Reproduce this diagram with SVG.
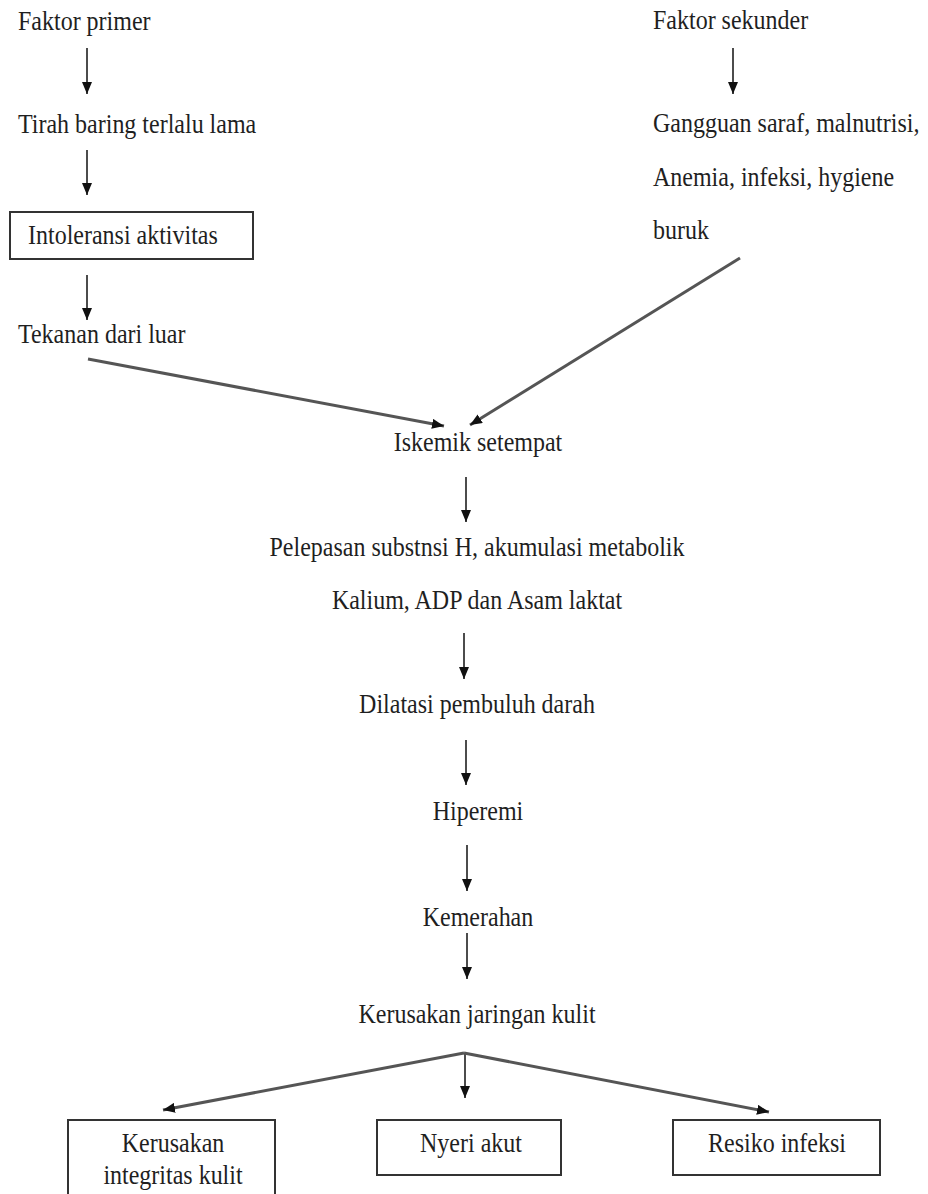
<svg xmlns="http://www.w3.org/2000/svg" width="928" height="1194" viewBox="0 0 928 1194">
<defs>
<marker id="ah" viewBox="0 0 12 10" refX="12" refY="5" markerWidth="12" markerHeight="10" markerUnits="userSpaceOnUse" orient="auto">
<path d="M0,0 L12,5 L0,10 z" fill="#111"/>
</marker>
</defs>
<style>
text{font-size:24px;fill:#1f1f1f}
.c{text-anchor:middle}
.box{fill:none;stroke:#333;stroke-width:2}
.v{stroke:#111;stroke-width:1.5;fill:none;marker-end:url(#ah)}
.d{stroke:#555;stroke-width:3;fill:none;marker-end:url(#ah)}
</style>
<rect width="928" height="1194" fill="#fff"/>
<g font-family="Liberation Serif, Tinos, Times New Roman, DejaVu Serif, serif">
<g id="faktor-primer"><text transform="translate(18,30) scale(1,1.14)">Faktor primer</text></g>
<g id="tirah-baring"><text transform="translate(18,133) scale(1,1.14)">Tirah baring terlalu lama</text></g>
<g id="intoleransi"><rect class="box" x="10" y="212" width="243" height="47"/><text transform="translate(28,244) scale(1,1.14)">Intoleransi aktivitas</text></g>
<g id="tekanan"><text transform="translate(18,343) scale(1,1.14)">Tekanan dari luar</text></g>
<g id="faktor-sekunder"><text transform="translate(653,29) scale(1,1.14)">Faktor sekunder</text></g>
<g id="gangguan"><text transform="translate(653,132) scale(1,1.14)">Gangguan saraf, malnutrisi,</text><text transform="translate(653,186) scale(1,1.14)">Anemia, infeksi, hygiene</text><text transform="translate(653,239) scale(1,1.14)">buruk</text></g>
<g id="iskemik"><text class="c" transform="translate(478,451) scale(1,1.14)">Iskemik setempat</text></g>
<g id="pelepasan"><text class="c" transform="translate(477,556) scale(1,1.14)">Pelepasan substnsi H, akumulasi metabolik</text><text class="c" transform="translate(477,609) scale(1,1.14)">Kalium, ADP dan Asam laktat</text></g>
<g id="dilatasi"><text class="c" transform="translate(477,713) scale(1,1.14)">Dilatasi pembuluh darah</text></g>
<g id="hiperemi"><text class="c" transform="translate(478,820) scale(1,1.14)">Hiperemi</text></g>
<g id="kemerahan"><text class="c" transform="translate(478,926) scale(1,1.14)">Kemerahan</text></g>
<g id="kerusakan-jaringan"><text class="c" transform="translate(477,1023) scale(1,1.14)">Kerusakan jaringan kulit</text></g>
<g id="kerusakan-integritas"><path class="box" d="M68,1200 V1120 H275 V1200"/><text class="c" transform="translate(173,1152) scale(1,1.14)">Kerusakan</text><text class="c" transform="translate(173,1184) scale(1,1.14)">integritas kulit</text></g>
<g id="nyeri-akut"><rect class="box" x="377" y="1120" width="184" height="55"/><text class="c" transform="translate(471,1152) scale(1,1.14)">Nyeri akut</text></g>
<g id="resiko-infeksi"><rect class="box" x="673" y="1120" width="207" height="55"/><text class="c" transform="translate(777,1152) scale(1,1.14)">Resiko infeksi</text></g>
</g>
<g id="connectors">
<line class="v" x1="87" y1="48" x2="87" y2="94"/>
<line class="v" x1="87" y1="150" x2="87" y2="195"/>
<line class="v" x1="87" y1="275" x2="87" y2="320"/>
<line class="v" x1="733" y1="48" x2="733" y2="94"/>
<line class="d" x1="88" y1="359" x2="444" y2="426"/>
<line class="d" x1="740" y1="258" x2="470" y2="425"/>
<line class="v" x1="466" y1="477" x2="466" y2="522"/>
<line class="v" x1="464" y1="633" x2="464" y2="679"/>
<line class="v" x1="466" y1="740" x2="466" y2="785"/>
<line class="v" x1="467" y1="845" x2="467" y2="891"/>
<line class="v" x1="467" y1="933" x2="467" y2="979"/>
<line class="d" x1="464" y1="1053" x2="163" y2="1110"/>
<line class="v" x1="465" y1="1053" x2="465" y2="1098"/>
<line class="d" x1="464" y1="1053" x2="769" y2="1112"/>
</g>
</svg>
